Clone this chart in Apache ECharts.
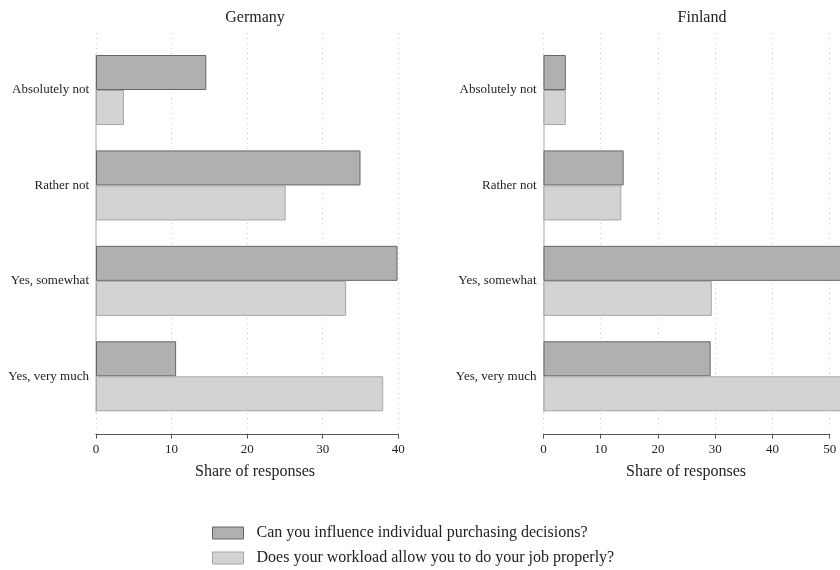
<!DOCTYPE html>
<html>
<head>
<meta charset="utf-8">
<script src="https://cdn.jsdelivr.net/npm/echarts@6/dist/echarts.min.js"></script>
<style>
  html, body { margin: 0; padding: 0; background: #fff; }
  #chart { width: 840px; height: 570px; }
</style>
</head>
<body>
<div id="chart"></div>
<script>
// ---- data ----
const categories = ['Absolutely not', 'Rather not', 'Yes, somewhat', 'Yes, very much'];
const seriesNames = ['Can you influence individual purchasing decisions?', 'Does your workload allow you to do your job properly?'];
const germanyInfluence = [14.6, 35.0, 39.9, 10.6];
const germanyWorkload = [3.7, 25.1, 33.1, 38.0];
const finlandInfluence = [3.9, 14.0, 52.8, 29.2];
const finlandWorkload = [3.9, 13.6, 29.4, 53.1];
const panelTitles = ['Germany', 'Finland'];
const axisTitle = 'Share of responses';
const germanyMax = 40;
const finlandMax = 50;
const tickStep = 10;

// ---- styling ----
const FONT = 'Liberation Serif';
const darkStyle = { color: '#b0b0b0', borderColor: '#666666', borderWidth: 1 };
const lightStyle = { color: '#d3d3d3', borderColor: '#a6a6a6', borderWidth: 1 };

const panels = [
  { left: 96, width: 302.3, max: germanyMax, inf: germanyInfluence, work: germanyWorkload, titleX: 255, axisTitleX: 255 },
  { left: 543.5, width: 286.2, max: finlandMax, inf: finlandInfluence, work: finlandWorkload, titleX: 702, axisTitleX: 686 }
];

const grid = [], xAxis = [], yAxis = [], series = [], graphic = [];
panels.forEach((p, i) => {
  const g0 = grid.length;
  grid.push({ left: p.left, width: p.width, top: 33, height: 401.7 });
  grid.push({ left: p.left, width: p.width, top: 42.3, height: 381.7 });
  grid.push({ left: p.left, width: p.width, top: 55, height: 357 });

  xAxis.push({
    gridIndex: g0, type: 'value', min: 0, max: p.max, interval: tickStep,
    axisLine: { show: true, lineStyle: { color: '#555', width: 1.2 } },
    axisTick: { show: true, length: 4, lineStyle: { color: '#555' } },
    axisLabel: { margin: 8, fontFamily: FONT, fontSize: 13, color: '#222' },
    splitLine: { show: true, lineStyle: { color: '#cfcfcf', type: [1, 4], width: 1 } }
  });
  yAxis.push({ gridIndex: g0, type: 'value', show: false });

  xAxis.push({ gridIndex: g0 + 1, type: 'value', min: 0, max: p.max, show: false });
  yAxis.push({
    gridIndex: g0 + 1, type: 'category', data: categories, inverse: true,
    axisLine: { show: false }, axisTick: { show: false },
    axisLabel: { margin: 7, fontFamily: FONT, fontSize: 13, color: '#222' }
  });

  xAxis.push({ gridIndex: g0 + 2, type: 'value', min: 0, max: p.max, show: false });
  yAxis.push({
    gridIndex: g0 + 2, type: 'value', min: 0, max: 1,
    axisLine: { show: true, lineStyle: { color: '#c4c4c4', width: 1.5 } },
    axisTick: { show: false }, axisLabel: { show: false }, splitLine: { show: false }
  });

  const ax = xAxis.length - 2;
  series.push({
    type: 'bar', name: seriesNames[0], xAxisIndex: ax, yAxisIndex: ax,
    data: p.inf, itemStyle: darkStyle, barGap: '0%', barCategoryGap: '26.6%',
    clip: false, silent: true
  });
  series.push({
    type: 'bar', name: seriesNames[1], xAxisIndex: ax, yAxisIndex: ax,
    data: p.work, itemStyle: lightStyle, barGap: '0%', barCategoryGap: '26.6%',
    clip: false, silent: true
  });

  graphic.push({
    type: 'text', x: p.titleX, y: 18,
    style: { text: panelTitles[i], font: '16px "' + FONT + '"', fill: '#222', textAlign: 'center', textVerticalAlign: 'middle' }
  });
  graphic.push({
    type: 'text', x: p.axisTitleX, y: 472,
    style: { text: axisTitle, font: '16px "' + FONT + '"', fill: '#222', textAlign: 'center', textVerticalAlign: 'middle' }
  });
});

const legendBase = {
  left: 207, icon: 'rect', itemWidth: 31, itemHeight: 12,
  selectedMode: false,
  itemStyle: { borderWidth: 1 },
  textStyle: { fontFamily: FONT, fontSize: 16, color: '#222', padding: [0, 0, 0, 8] }
};

const chart = echarts.init(document.getElementById('chart'), null, { renderer: 'canvas' });
chart.setOption({
  animation: false,
  backgroundColor: '#ffffff',
  grid, xAxis, yAxis, series, graphic,
  legend: [
    Object.assign({}, legendBase, { data: [seriesNames[0]], top: 520 }),
    Object.assign({}, legendBase, { data: [seriesNames[1]], top: 545 })
  ]
});
</script>
</body>
</html>
